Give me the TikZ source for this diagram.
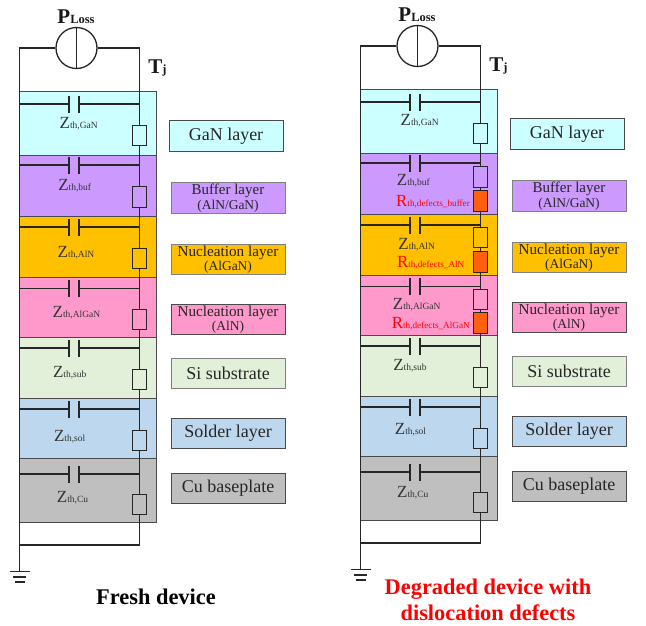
\documentclass[tikz,border=0pt]{standalone}
\usepackage{fontspec}
\setmainfont{Liberation Serif}
\definecolor{cGaN}{HTML}{CCFFFF}
\definecolor{cBuf}{HTML}{CC99FF}
\definecolor{cAlN}{HTML}{FFC000}
\definecolor{cAlGaN}{HTML}{FF99CC}
\definecolor{cSub}{HTML}{E2F0D9}
\definecolor{cSol}{HTML}{BDD7EE}
\definecolor{cCu}{HTML}{BFBFBF}
\definecolor{cDef}{HTML}{FF6010}
\definecolor{wireC}{HTML}{262626}
\definecolor{edgeC}{HTML}{4A4A4A}
\newcommand\fs[2]{{\fontsize{#1}{#1}\selectfont #2}}
\newcommand\Zl[1]{\fs{17}{Z}\fs{9.5}{#1}}
\newcommand\Rl[1]{\fs{17}{R}\fs{9.2}{#1}}
% id, y : capacitor branch
\newcommand\CapBr[2]{%
  \coordinate (#1a) at (19.5,#2);
  \coordinate (#1b) at (69,#2);
  \coordinate (#1c) at (79,#2);
  \coordinate (#1d) at (139.5,#2);
  \draw[wire] (#1a) -- (#1b) (#1c) -- (#1d);
  \draw[wire] ([yshift=-8.5pt]#1b) -- ([yshift=8.5pt]#1b);
  \draw[wire] ([yshift=-8.5pt]#1c) -- ([yshift=8.5pt]#1c);
}
\newcommand\LayerR[3]{\draw[layerbox,fill=#1] (19.5,#2) rectangle (156.5,#3);}
% name, y centre
\newcommand\Res[2]{\node[resbox] (#1) at (139.5,#2) {};}
\newcommand\Def[2]{\node[resbox,fill=cDef] (#1) at (139.5,#2) {};}
% name, colour, edge, x centre, y centre, text
\newcommand\Tag[6]{\node[tagbox,fill=#2,draw=#3] (#1) at (#4,#5) {#6};}
\newcommand\CommonTags[1]{%
  \Tag{#1t1}{cGaN}{edgeC}{226}{136}{\fs{18}{GaN layer}}
  \Tag{#1t2}{cBuf}{gray}{228}{198}{\fs{15}{Buffer layer}\\[1pt]\fs{13.5}{(AlN/GaN)}}
  \Tag{#1t3}{cAlN}{gray}{228}{259.5}{\fs{15.2}{Nucleation layer}\\[1pt]\fs{13.5}{(AlGaN)}}
  \Tag{#1t4}{cAlGaN}{edgeC}{228}{319.5}{\fs{15.2}{Nucleation layer}\\[1pt]\fs{13.5}{(AlN)}}
  \Tag{#1t5}{cSub}{gray}{228}{373.5}{\fs{18}{Si substrate}}
  \Tag{#1t6}{cSol}{edgeC}{228}{433.5}{\fs{18}{Solder layer}}
  \Tag{#1t7}{cCu}{edgeC}{228}{488.5}{\fs{18}{Cu baseplate}}
}
\newcommand\CommonLayers{%
  \LayerR{cGaN}{91}{155}
  \LayerR{cBuf}{155}{216}
  \LayerR{cAlN}{216}{277}
  \LayerR{cAlGaN}{277}{337.5}
  \LayerR{cSub}{337.5}{398}
  \LayerR{cSol}{398}{458.5}
  \LayerR{cCu}{458.5}{522.5}
}
\newcommand\CommonCaps[1]{%
  \CapBr{#1c1}{104}
  \CapBr{#1c2}{165}
  \CapBr{#1c3}{227}
  \CapBr{#1c4}{288.5}
  \CapBr{#1c5}{348}
  \CapBr{#1c6}{409}
  \CapBr{#1c7}{474}
}
\newcommand\Frame[1]{%
  \node[srcbox] (#1src) at (76.5,48) {};
  \draw[wire] (#1src.north) -- (#1src.south);
  \coordinate (#1tl) at (19.5,48);
  \coordinate (#1tr) at (139.5,48);
  \coordinate (#1bl) at (19.5,545);
  \coordinate (#1br) at (139.5,545);
  \coordinate (#1g) at (19.5,571.5);
  \draw[wire] (#1src.west) -- (#1tl) -- (#1bl) -- (#1g);
  \draw[wire] (#1src.east) -- (#1tr) -- (#1r1.north);
  \draw[wire] (#1r7.south) -- (#1br) -- (#1bl);
  \draw[wire] ([xshift=-9.5pt]#1g) -- ([xshift=10pt]#1g);
  \draw[wire] ([xshift=-6.5pt,yshift=-5.5pt]#1g) -- ([xshift=6.5pt,yshift=-5.5pt]#1g);
  \draw[wire] ([xshift=-4.5pt,yshift=-10.5pt]#1g) -- ([xshift=5pt,yshift=-10.5pt]#1g);
  \node[pl] (#1pl) at (76,16.5) {\fs{21}{P}\fs{12.5}{Loss}};
  \node[pl] (#1tj) at (157.5,67.5) {\fs{21}{T}\fs{12.5}{j}};
}
\tikzset{
  x=1pt,y=-1pt,
  wire/.style={draw=wireC,line width=1.3pt},
  layerbox/.style={draw=edgeC,line width=1pt},
  resbox/.style={draw=wireC,line width=1.3pt,minimum width=14.5pt,minimum height=20.5pt,inner sep=0pt},
  tagbox/.style={line width=1pt,minimum width=114pt,minimum height=30.5pt,inner sep=0pt,align=center,text=black!85},
  srcbox/.style={circle,draw=wireC,line width=1.3pt,minimum size=41pt,inner sep=0pt},
  pl/.style={font=\bfseries,inner sep=0pt,text=black!90},
  zlab/.style={inner sep=0pt,text=black!80},
  rlab/.style={inner sep=0pt,text=red},
  ttl/.style={font=\bfseries\fontsize{22.4}{24}\selectfont,inner sep=0pt},
}
\begin{document}
\begin{tikzpicture}
\useasboundingbox (0,0) rectangle (646,625);
\fill[white] (0,0) rectangle (646,625);
% ---------- fresh device
\begin{scope}
  \CommonLayers
  \CommonCaps{L}
  \Res{Lr1}{135.5}
  \Res{Lr2}{197}
  \Res{Lr3}{258.5}
  \Res{Lr4}{319.5}
  \Res{Lr5}{379.5}
  \Res{Lr6}{440.5}
  \Res{Lr7}{504.5}
  \draw[wire] (Lr1.south) -- (Lr2.north) (Lr2.south) -- (Lr3.north) (Lr3.south) -- (Lr4.north)
              (Lr4.south) -- (Lr5.north) (Lr5.south) -- (Lr6.north) (Lr6.south) -- (Lr7.north);
  \Frame{L}
  \node[zlab] (Lz1) at (78.7,124) {\Zl{th,GaN}};
  \node[zlab] (Lz2) at (74.7,186) {\Zl{th,buf}};
  \node[zlab] (Lz3) at (76,253) {\Zl{th,AlN}};
  \node[zlab] (Lz4) at (76.5,313) {\Zl{th,AlGaN}};
  \node[zlab] (Lz5) at (69.7,373) {\Zl{th,sub}};
  \node[zlab] (Lz6) at (69.7,437) {\Zl{th,sol}};
  \node[zlab] (Lz7) at (72.5,498) {\Zl{th,Cu}};
  \CommonTags{L}
  \node[ttl] (Ltitle) at (156,597) {Fresh device};
\end{scope}
% ---------- degraded device
\begin{scope}[shift={(341,-2)}]
  \CommonLayers
  \CommonCaps{R}
  \Res{Rr1}{135.5}
  \Res{Rr2}{179}
  \Def{Rd2}{203}
  \Res{Rr3}{239.5}
  \Def{Rd3}{264}
  \Res{Rr4}{301.5}
  \Def{Rd4}{325}
  \Res{Rr5}{379.5}
  \Res{Rr6}{440.5}
  \Res{Rr7}{504.5}
  \draw[wire] (Rr1.south) -- (Rr2.north) (Rr2.south) -- (Rd2.north) (Rd2.south) -- (Rr3.north)
              (Rr3.south) -- (Rd3.north) (Rd3.south) -- (Rr4.north) (Rr4.south) -- (Rd4.north)
              (Rd4.south) -- (Rr5.north) (Rr5.south) -- (Rr6.north) (Rr6.south) -- (Rr7.north);
  \Frame{R}
  \node[zlab] (Rz1) at (78.7,122.7) {\Zl{th,GaN}};
  \node[zlab] (Rz2) at (72.3,183) {\Zl{th,buf}};
  \node[rlab] (Rq2) at (92,204) {\Rl{th,defects\_buffer}};
  \node[zlab] (Rz3) at (75.7,246.5) {\Zl{th,AlN}};
  \node[rlab] (Rq3) at (89.7,264.5) {\Rl{th,defects\_AlN}};
  \node[zlab] (Rz4) at (75.7,307) {\Zl{th,AlGaN}};
  \node[rlab] (Rq4) at (89.8,325.5) {\Rl{th,defects\_AlGaN}};
  \node[zlab] (Rz5) at (69,368) {\Zl{th,sub}};
  \node[zlab] (Rz6) at (69.5,432) {\Zl{th,sol}};
  \node[zlab] (Rz7) at (71.8,494.3) {\Zl{th,Cu}};
  \CommonTags{R}
\end{scope}
\node[ttl,text=red] (Rtitle1) at (488,589.5) {Degraded device with};
\node[ttl,text=red] (Rtitle2) at (488,612.5) {dislocation defects};
\end{tikzpicture}
\end{document}
